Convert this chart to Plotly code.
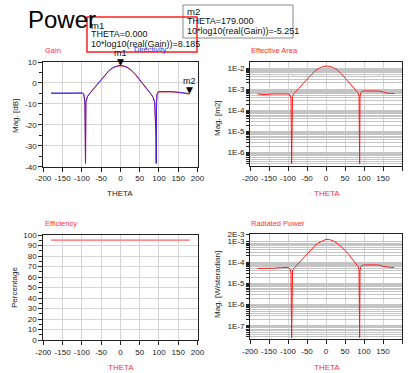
import plotly.graph_objects as go

W, H = 409, 373

# ---------------- data ----------------
theta_gain = [-180, -160, -140, -120, -100, -95, -92, -90.5, -89.5, -88, -85, -80, -70, -60, -50, -40, -30, -20, -10, 0,
              10, 20, 30, 40, 50, 60, 70, 80, 85, 89, 92.5, 93, 93.5, 95, 97, 100, 110, 120, 130, 140, 150, 160, 170, 179]
gain_db = [-5.0, -5.1, -5.0, -5.0, -4.9, -5.4, -9.5, -38.5, -9.0, -7.8, -6.5, -5.2, -3.0, -0.8, 1.5, 3.8, 5.7, 7.1, 7.9, 8.185,
           7.9, 7.1, 5.7, 3.7, 1.5, -0.9, -3.2, -5.6, -7.0, -9.5, -26.0, -38.5, -10.0, -5.5, -4.6, -4.3, -4.2, -4.2, -4.3, -4.4, -4.5, -4.8, -5.1, -5.251]
directivity_db = [-4.8, -4.9, -4.8, -4.8, -4.7, -5.2, -9.3, -38.3, -8.8, -7.6, -6.3, -5.0, -2.8, -0.6, 1.7, 4.0, 5.9, 7.3, 8.1, 8.4,
                  8.1, 7.3, 5.9, 3.9, 1.7, -0.7, -3.0, -5.4, -6.8, -9.3, -25.8, -38.3, -9.8, -5.3, -4.4, -4.1, -4.0, -4.0, -4.1, -4.2, -4.3, -4.6, -4.9, -5.05]

theta_area = [-180, -160, -140, -120, -100, -95, -92, -90.5, -89.5, -88, -85, -80, -70, -60, -50, -40, -30, -20, -10, 0,
              10, 20, 30, 40, 50, 60, 70, 80, 85, 87, 88.5, 89.5, 91, 95, 100, 120, 140, 150, 160, 170, 180]
eff_area = [6.0e-4, 5.6e-4, 6.0e-4, 6.0e-4, 6.0e-4, 5.5e-4, 3.5e-4, 3.0e-7, 3.0e-4, 4.5e-4, 6.2e-4, 7.5e-4, 1.15e-3, 1.9e-3,
            2.9e-3, 4.6e-3, 7.0e-3, 9.5e-3, 1.15e-2, 1.25e-2, 1.2e-2, 1.05e-2, 8.0e-3, 5.5e-3, 3.5e-3, 2.2e-3, 1.3e-3,
            9.0e-4, 6.5e-4, 4.5e-4, 3.0e-7, 4.0e-4, 6.5e-4, 8.0e-4, 8.3e-4, 8.3e-4, 8.2e-4, 7.5e-4, 6.5e-4, 6.4e-4, 6.4e-4]

theta_eff = [-180, 180]
efficiency = [95.2, 95.2]

theta_power = [-180, -160, -140, -120, -100, -95, -92, -90.5, -89.5, -88, -85, -80, -70, -60, -50, -40, -30, -20, -10, 0,
               10, 20, 30, 40, 50, 60, 70, 80, 85, 87, 88.5, 89.5, 91, 95, 100, 120, 140, 150, 160, 170, 180]
rad_power = [5.1e-5, 5.0e-5, 5.2e-5, 5.5e-5, 5.7e-5, 5.0e-5, 3.0e-5, 2.7e-8, 3.0e-5, 4.0e-5, 5.0e-5, 6.3e-5, 1.0e-4, 1.6e-4,
             2.5e-4, 3.9e-4, 5.8e-4, 8.0e-4, 1.0e-3, 1.2e-3, 1.15e-3, 1.0e-3, 7.8e-4, 5.5e-4, 3.7e-4, 2.3e-4, 1.4e-4,
             8.5e-5, 6.0e-5, 4.3e-5, 2.7e-8, 4.0e-5, 6.0e-5, 7.0e-5, 7.4e-5, 7.5e-5, 7.4e-5, 6.4e-5, 5.8e-5, 5.7e-5, 5.7e-5]

x_ticks = [-200, -150, -100, -50, 0, 50, 100, 150, 200]
gain_ticks = [10, 0, -10, -20, -30, -40]
eff_ticks = [0, 10, 20, 30, 40, 50, 60, 70, 80, 90, 100]
area_tick_vals = [2e-2, 1e-2, 1e-3, 1e-4, 1e-5, 1e-6]
area_tick_text = ["2E-2", "1E-2", "1E-3", "1E-4", "1E-5", "1E-6"]
power_tick_vals = [2e-3, 1e-3, 1e-4, 1e-5, 1e-6, 1e-7]
power_tick_text = ["2E-3", "1E-3", "1E-4", "1E-5", "1E-6", "1E-7"]

marker_theta = [0, 179]
marker_val = [8.185, -5.251]
marker_names = ["m1", "m2"]

# ---------------- helpers ----------------
def px(x):
    return x / W

def py(y):
    return 1 - y / H

FONT = "Arial, Liberation Sans, sans-serif"

def log_grid(lo_exp, hi_exp):
    vals = []
    for e in range(lo_exp, hi_exp + 1):
        for m in range(1, 10):
            vals.append(m * 10.0 ** e)
    return vals

fig = go.Figure()

fig.add_trace(go.Scatter(x=theta_gain, y=gain_db, mode="lines", line=dict(color="#ff2020", width=1),
                         xaxis="x", yaxis="y", showlegend=False))
fig.add_trace(go.Scatter(x=theta_gain, y=directivity_db, mode="lines", line=dict(color="#2020ff", width=1),
                         opacity=0.85, xaxis="x", yaxis="y", showlegend=False))
fig.add_trace(go.Scatter(x=theta_area, y=eff_area, mode="lines", line=dict(color="#ff1a1a", width=1),
                         xaxis="x2", yaxis="y2", showlegend=False))
fig.add_trace(go.Scatter(x=theta_eff, y=efficiency, mode="lines", line=dict(color="#ff8c8c", width=1.8),
                         xaxis="x3", yaxis="y3", showlegend=False))
fig.add_trace(go.Scatter(x=theta_power, y=rad_power, mode="lines", line=dict(color="#ff1a1a", width=1),
                         xaxis="x4", yaxis="y4", showlegend=False))

common_ax = dict(showline=True, linecolor="#222", linewidth=1, mirror=True, ticks="outside", ticklen=4,
                 tickcolor="#222", tickfont=dict(size=8, color="#222", family=FONT), zeroline=False,
                 gridcolor="#d4d4d4", gridwidth=1, automargin=False, tickangle=0)

xax = dict(common_ax, range=[-200, 200], tickvals=x_ticks, ticktext=[str(v) for v in x_ticks])

area_grid = [v for v in log_grid(-7, -2) if 10 ** -6.63 <= v <= 10 ** -1.71]
area_text = []
for v in area_grid:
    lbl = ""
    for tv, tt in zip(area_tick_vals, area_tick_text):
        if abs(v - tv) / tv < 1e-6:
            lbl = tt
    area_text.append(lbl)
power_grid = [v for v in log_grid(-8, -3) if 10 ** -7.62 <= v <= 10 ** -2.67]
power_text = []
for v in power_grid:
    lbl = ""
    for tv, tt in zip(power_tick_vals, power_tick_text):
        if abs(v - tv) / tv < 1e-6:
            lbl = tt
    power_text.append(lbl)

fig.update_layout(
    width=W, height=H, autosize=False,
    margin=dict(l=0, r=0, t=0, b=0),
    paper_bgcolor="white", plot_bgcolor="white",
    font=dict(family=FONT, size=8, color="#222"),
    xaxis=dict(xax, domain=[px(43.3), px(197.5)], anchor="y"),
    yaxis=dict(common_ax, domain=[py(166.7), py(62)], range=[-40, 10], tickvals=gain_ticks,
               ticktext=[str(v) for v in gain_ticks], anchor="x",
               minor=dict(dtick=5, ticks="outside", ticklen=3, tickcolor="#222", showgrid=False)),
    xaxis2=dict(xax, domain=[px(250), px(402)], anchor="y2"),
    yaxis2=dict(common_ax, domain=[py(166), py(62)], type="log", range=[-6.63, -1.71],
                tickvals=area_grid, ticktext=area_text, ticklen=3, gridcolor="#c4c4c4", anchor="x2"),
    xaxis3=dict(xax, domain=[px(43.3), px(197.5)], anchor="y3"),
    yaxis3=dict(common_ax, domain=[py(340), py(235)], range=[0, 100], tickvals=eff_ticks,
                ticktext=[str(v) for v in eff_ticks], anchor="x3",
                minor=dict(dtick=5, ticks="outside", ticklen=3, tickcolor="#222", showgrid=False)),
    xaxis4=dict(xax, domain=[px(250), px(402)], anchor="y4"),
    yaxis4=dict(common_ax, domain=[py(339), py(234)], type="log", range=[-7.62, -2.67],
                tickvals=power_grid, ticktext=power_text, ticklen=3, gridcolor="#c4c4c4", anchor="x4"),
)

ann = []

def txt(x, y, s, color="#111", size=8, xanchor="left", angle=0):
    ann.append(dict(xref="paper", yref="paper", x=px(x), y=py(y), text=s, showarrow=False,
                    xanchor=xanchor, yanchor="middle", textangle=angle,
                    font=dict(family=FONT, size=size, color=color)))

# Big title
ann.append(dict(xref="paper", yref="paper", x=px(26), y=py(4), text="Power", showarrow=False,
                xanchor="left", yanchor="top", font=dict(family=FONT, size=24, color="#000")))

# panel titles / legends
txt(43, 51, "Gain", "#ff3030", 7.5)
txt(132, 50, "Directivity", "#3030ff", 7.5)
txt(249, 51, "Effective Area", "#ff3030", 7.5)
txt(43, 224, "Efficiency", "#ff3030", 7.5)
txt(249, 224, "Radiated Power", "#ff3030", 7.5)

# x-axis titles
txt(120, 193, "THETA", "#222", 8, "center")
txt(327, 193, "THETA", "#ff3030", 8, "center")
txt(121, 367, "THETA", "#ff3030", 8, "center")
txt(327, 367, "THETA", "#ff3030", 8, "center")

# y-axis titles
txt(15, 116, "Mag. [dB]", "#222", 8, "center", -90)
txt(217, 118, "Mag. [m2]", "#222", 8, "center", -90)
txt(14, 288, "Percentage", "#222", 8, "center", -90)
txt(217, 284, "Mag. [W/steradian]", "#222", 8, "center", -90)

# m2 box text (drawn first)
txt(185, 11.5, "m2", "#111", 9.5)
txt(185, 21, "THETA=179.000", "#111", 9)
txt(185, 31, "10*log10(real(Gain))=-5.251", "#111", 9)
# m1 box text
txt(89, 25, "m1", "#111", 9.5)
txt(89, 34, "THETA=0.000", "#111", 9)
txt(89, 44, "10*log10(real(Gain))=8.185", "#111", 9)

# marker glyphs on the gain plot
for mx, my, mn in zip(marker_theta, marker_val, marker_names):
    ann.append(dict(xref="x", yref="y", x=mx, y=my, text="▼", showarrow=False, xanchor="center",
                    yanchor="middle", yshift=4, font=dict(family="DejaVu Sans", size=9, color="#000")))
    ann.append(dict(xref="x", yref="y", x=mx, y=my, text=mn, showarrow=False, xanchor="center",
                    yanchor="middle", yshift=13, font=dict(family=FONT, size=9, color="#111")))

fig.update_layout(annotations=ann)

shapes = [
    dict(type="rect", xref="paper", yref="paper", x0=px(183), x1=px(293), y0=py(38), y1=py(5),
         line=dict(color="#8a8a8a", width=1), fillcolor="white", layer="above"),
    dict(type="rect", xref="paper", yref="paper", x0=px(87), x1=px(197), y0=py(52), y1=py(17),
         line=dict(color="#ff2020", width=1.5), fillcolor="rgba(0,0,0,0)", layer="above"),
]
fig.update_layout(shapes=shapes)

fig.write_html("out.html", config={"displayModeBar": False},
               post_script="document.body.style.margin='0px';document.body.style.overflow='hidden';")
